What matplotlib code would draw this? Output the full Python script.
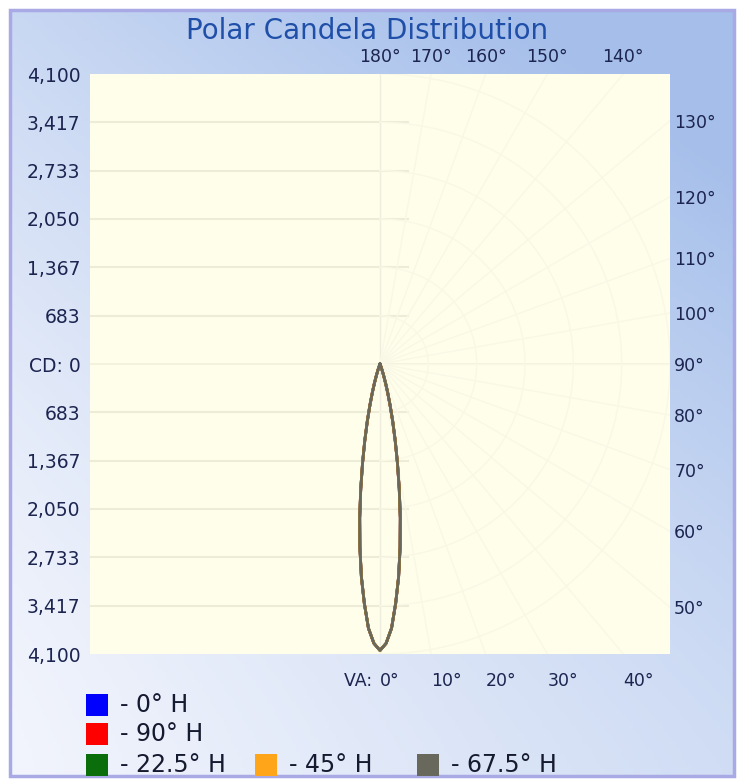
import numpy as np
import matplotlib
matplotlib.use("Agg")
import matplotlib.pyplot as plt
from matplotlib.patches import Rectangle

# candela scale (left axis) and vertical angles
cd_max = 4100
cd_ticks = [683, 1367, 2050, 2733, 3417, 4100]
bottom_angles = [0, 10, 20, 30, 40]
top_angles = [180, 170, 160, 150, 140]
right_angles = [130, 120, 110, 100, 90, 80, 70, 60, 50]

# candela values per vertical angle (all horizontal planes are the same lamp)
va = [0, 1.25, 2.5, 3.75, 5, 6.25, 7.5, 8.75, 10, 11.25, 12.5, 13.75, 15,
      16.25, 17.5, 18.75, 20, 22.5, 25, 30]
cd_0h = [4050, 3950, 3740, 3390, 3020, 2610, 2200, 1790, 1420, 1100, 830, 600, 420,
         280, 170, 90, 40, 5, 0, 0]
cd_90h = [4050, 3950, 3740, 3390, 3020, 2610, 2200, 1790, 1420, 1100, 830, 600, 420,
          280, 170, 90, 40, 5, 0, 0]
cd_22h = [4050, 3950, 3740, 3390, 3020, 2610, 2200, 1790, 1420, 1100, 830, 600, 420,
          280, 170, 90, 40, 5, 0, 0]
cd_45h = [4050, 3950, 3740, 3390, 3020, 2610, 2200, 1790, 1420, 1100, 830, 600, 420,
          280, 170, 90, 40, 5, 0, 0]
cd_67h = [4050, 3950, 3740, 3390, 3020, 2610, 2200, 1790, 1420, 1100, 830, 600, 420,
          280, 170, 90, 40, 5, 0, 0]

series = [("- 0° H", cd_0h, "#0000ff"),
          ("- 90° H", cd_90h, "#ff0000"),
          ("- 22.5° H", cd_22h, "#0a6e0a"),
          ("- 45° H", cd_45h, "#ffa51a"),
          ("- 67.5° H", cd_67h, "#68685c")]

navy = "#1c2450"
W, H = 740, 780
fig = plt.figure(figsize=(7.4, 7.8), dpi=100, facecolor="white")

# background gradient inside the frame
bg = fig.add_axes([0, 0, 1, 1], zorder=0)
bg.set_axis_off()
xx, yy = np.meshgrid(np.linspace(0, 1, 200), np.linspace(0, 1, 200))
t = np.clip(0.45 * xx + 0.55 * (1 - yy) ** 1.5 + 0.2 * xx * (1 - yy), 0, 1)
c0 = np.array([0.95, 0.96, 0.99])
c1 = np.array([0.65, 0.75, 0.92])
img = c0 * (1 - t[..., None]) + c1 * t[..., None]
bg.imshow(img, extent=[10, 734, 4, 770], origin="upper", aspect="auto")
bg.set_xlim(0, W)
bg.set_ylim(0, H)
bg.add_patch(Rectangle((10, 4), 724, 766, fill=False, ec="#a9a9e6", lw=2.5))

ax = fig.add_axes([90 / W, (H - 654) / H, 580 / W, 580 / H], zorder=1)
ax.set_facecolor("#fefeeb")
ax.set_xlim(-cd_max, cd_max)
ax.set_ylim(-cd_max, cd_max)
for s in ax.spines.values():
    s.set_visible(False)

# faint grid
for k in cd_ticks[:-1]:
    for sgn in (1, -1):
        ax.plot([-cd_max, 400], [sgn * k, sgn * k], color="#edecd6", lw=1.5, zorder=1)
ax.plot([-cd_max, cd_max], [0, 0], color="#f1f0da", lw=1.2, zorder=1)
ax.plot([0, 0], [-cd_max, cd_max], color="#eeede0", lw=1, zorder=1)
th = np.linspace(0, np.pi, 200)
for k in cd_ticks:
    ax.plot(k * np.sin(th), -k * np.cos(th), color="#f9f8e6", lw=1, zorder=1)
for a in range(10, 180, 10):
    r = np.radians(a)
    ax.plot([0, 6000 * np.sin(r)], [0, -6000 * np.cos(r)], color="#f9f8e6", lw=1, zorder=1)

# beam curves
ang = np.radians(va)
for label, cd, col in series:
    cd = np.array(cd)
    x = np.concatenate([-(cd * np.sin(ang))[::-1], cd * np.sin(ang)])
    y = np.concatenate([-(cd * np.cos(ang))[::-1], -cd * np.cos(ang)])
    ax.plot(x, y, color=col, lw=2, zorder=3, solid_joinstyle="round")

# left ticks
lev = [-v for v in cd_ticks[::-1]] + [0] + cd_ticks
lab = [f"{v:,}" for v in cd_ticks[::-1]] + ["CD: 0"] + [f"{v:,}" for v in cd_ticks]
ax.set_yticks(lev, lab[::-1])
ax.tick_params(axis="y", length=0, pad=7, labelsize=13.5, labelcolor=navy)

# bottom ticks
bx = [cd_max * np.tan(np.radians(a)) for a in bottom_angles]
ax.set_xticks(bx, [f"{a}°" for a in bottom_angles])
ax.tick_params(axis="x", length=0, pad=13, labelsize=12.5, labelcolor=navy)
for lbl in ax.get_xticklabels():
    lbl.set_horizontalalignment("left")
ax.text(-40, -cd_max, "VA: ", ha="right", va="top", fontsize=12.5, color=navy,
        transform=ax.transData + matplotlib.transforms.ScaledTranslation(0, -13 / 72 - 0.004, fig.dpi_scale_trans))

top = ax.secondary_xaxis("top")
top.set_xticks([cd_max * np.tan(np.radians(180 - a)) for a in top_angles],
               [f"{a}°" for a in top_angles])
top.tick_params(length=0, pad=6, labelsize=12.5, labelcolor=navy)
top.spines["top"].set_visible(False)

right = ax.secondary_yaxis("right")
right.set_yticks([-cd_max / np.tan(np.radians(a)) if a != 90 else 0 for a in right_angles],
                 [f"{a}°" for a in right_angles])
right.tick_params(length=0, pad=3, labelsize=12.5, labelcolor=navy)
right.spines["right"].set_visible(False)

fig.text(367 / W, 1 - 31 / H, "Polar Candela Distribution", ha="center", va="center",
         fontsize=20, color="#1f4fa8")

# legend
pos = [(86, 705), (86, 734), (86, 765), (255, 765), (417, 765)]
for (px, py), (label, cd, col) in zip(pos, series):
    bg.add_patch(Rectangle((px, H - py - 11), 22, 22, color=col, lw=0))
    bg.text(px + 34, H - py, label, ha="left", va="center", fontsize=17, color="#151a30")

fig.savefig("out.png", dpi=100)
